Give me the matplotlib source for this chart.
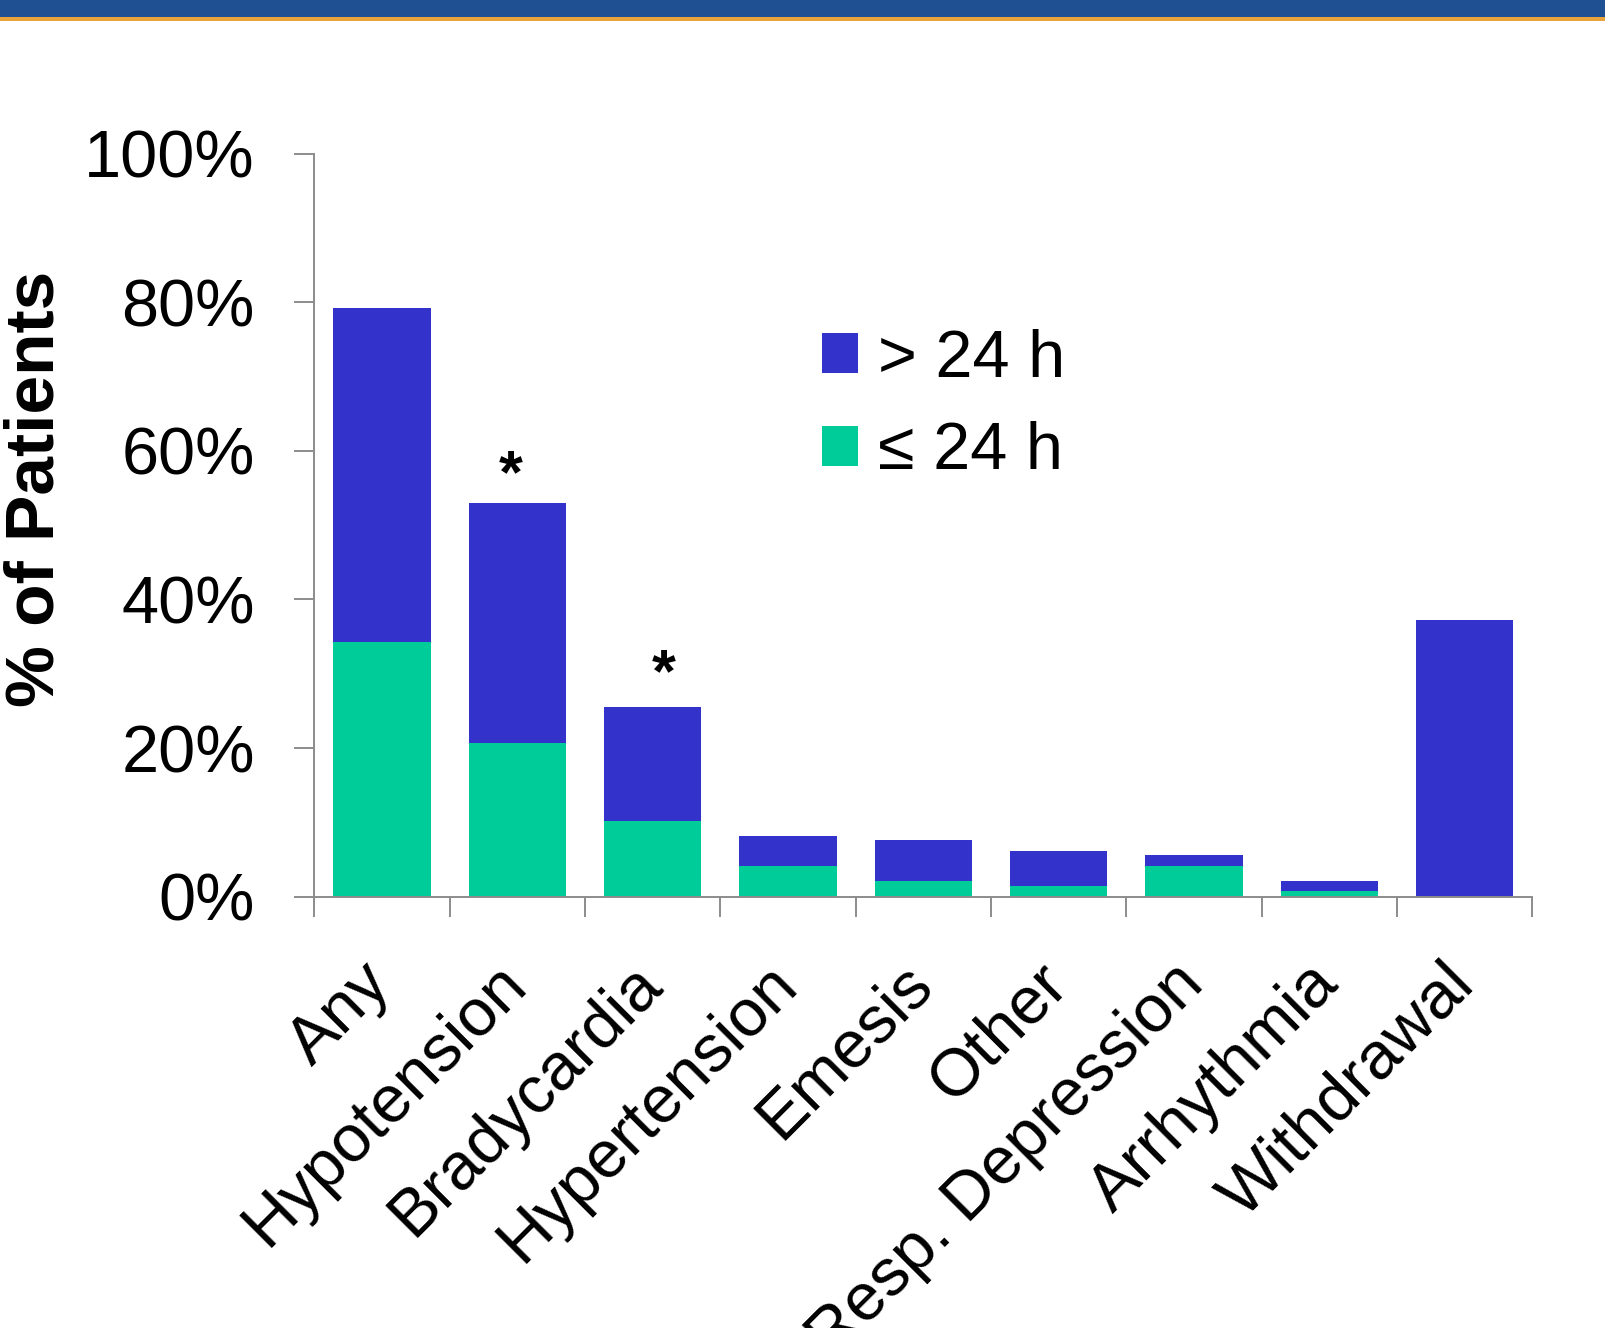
import matplotlib.pyplot as plt
import numpy as np
from matplotlib.patches import Rectangle

plt.rcParams['font.family'] = ['Liberation Sans', 'DejaVu Sans']

categories = ['Any', 'Hypotension', 'Bradycardia', 'Hypertension', 'Emesis',
              'Other', 'Resp. Depression', 'Arrhythmia', 'Withdrawal']
total = [79.2, 53.0, 25.5, 8.2, 7.6, 6.2, 5.6, 2.1, 37.2]       # % of patients, all
early = [34.3, 20.7, 10.2, 4.1, 2.1, 1.4, 4.1, 0.7, 0.0]        # % of patients, <= 24 h
late = [t - e for t, e in zip(total, early)]                    # > 24 h part
starred = ['Hypotension', 'Bradycardia']

blue = '#3333CC'
green = '#00CC99'
grey = '#8C8C8C'

fig = plt.figure(figsize=(16.05, 13.28), dpi=100)
ax = fig.add_axes([0.1958, 0.3248, 0.7589, 0.5596])

# header band
fig.patches.append(Rectangle((0, 1 - 17.5 / 1328), 1, 17.5 / 1328, transform=fig.transFigure,
                             facecolor='#1F5091', edgecolor='none'))
fig.patches.append(Rectangle((0, 1 - 20.5 / 1328), 1, 3 / 1328, transform=fig.transFigure,
                             facecolor='#E8A33A', edgecolor='none'))

x = np.arange(len(categories))
ax.bar(x, early, width=0.72, color=green, label='≤ 24 h')
ax.bar(x, late, width=0.72, bottom=early, color=blue, label='> 24 h')

# significance marks
for name, dx, dy in [('Hypotension', -0.05, 3.5), ('Bradycardia', 0.08, 4.3)]:
    i = categories.index(name)
    ax.text(i + dx, total[i] + dy, '*', ha='center', va='center',
            fontsize=44, fontweight='bold')

ax.set_xlim(-0.5, len(categories) - 0.5)
ax.set_ylim(0, 100)
ax.set_yticks(np.arange(0, 101, 20))
ax.set_yticklabels([f'{v}%' for v in range(0, 101, 20)], fontsize=48)
ax.set_xticks(np.arange(-0.5, len(categories), 1.0))
ax.set_xticklabels([])
ax.tick_params(axis='both', length=14.7, width=1.4, color=grey)
ax.tick_params(axis='y', pad=28)

for i, name in enumerate(categories):
    ax.annotate(name, xy=(i, 0), xycoords=('data', 'axes fraction'),
                xytext=(-16, -40), textcoords='offset points',
                rotation=45, rotation_mode='anchor', ha='right', va='top', fontsize=48)

for side in ['top', 'right']:
    ax.spines[side].set_visible(False)
for side in ['left', 'bottom']:
    ax.spines[side].set_color(grey)
    ax.spines[side].set_linewidth(1.4)

fig.text(0.022, 0.632, '% of Patients', rotation=90, ha='center', va='center',
         fontsize=50, fontweight='bold')

handles, labels = ax.get_legend_handles_labels()
ax.legend(handles[::-1], labels[::-1], loc='upper left', bbox_to_anchor=(0.395, 0.80),
          frameon=False, fontsize=48, handlelength=0.54, handleheight=0.54,
          handletextpad=0.3, labelspacing=0.46, borderaxespad=0)

fig.savefig('out.png', dpi=100)
